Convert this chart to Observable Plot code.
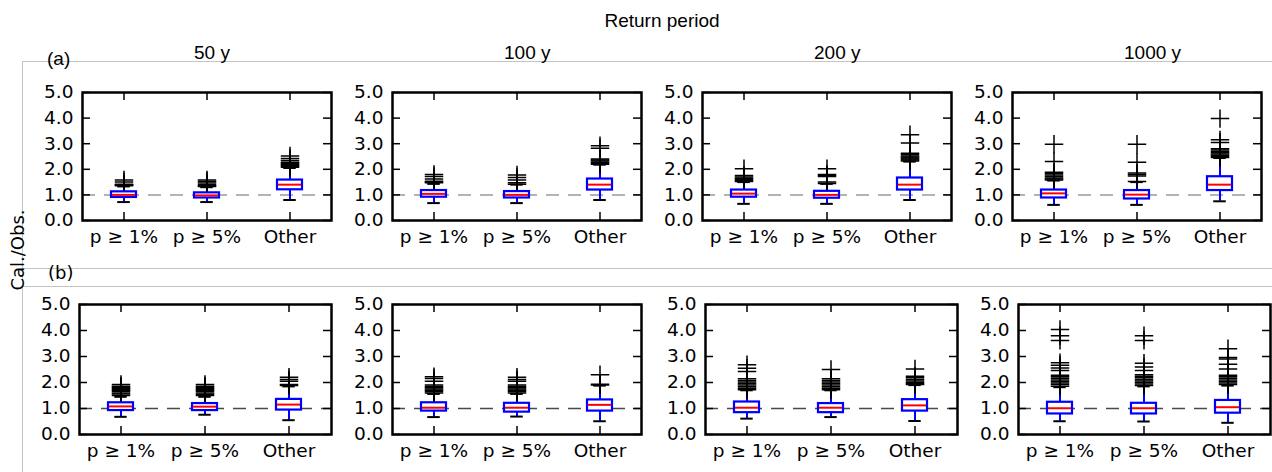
<!DOCTYPE html>
<html><head><meta charset="utf-8">
<script src="https://cdn.jsdelivr.net/npm/d3@7"></script>
<script src="https://cdn.jsdelivr.net/npm/@observablehq/plot@0.6"></script>
<style>
body{margin:0;background:#fff;}
#fig{position:relative;width:1272px;height:472px;overflow:hidden;background:#fff;}
.gl{position:absolute;background:#c4c4c4;}
.hdr{position:absolute;font-family:"Liberation Sans",Arial,sans-serif;font-size:18px;color:#000;white-space:nowrap;line-height:1;}
</style></head><body><div id="fig"></div>
<script>
const categories = ["p ≥ 1%", "p ≥ 5%", "Other"];
const periods = ["50 y", "100 y", "200 y", "1000 y"];
const yTicks = [0, 1, 2, 3, 4, 5];
const rowLabels = ["(a)", "(b)"];

// box stats per category: [lower whisker, Q1, median, Q3, upper whisker]
const boxA50   = [[0.72,0.90,1.00,1.12,1.33],[0.72,0.88,0.98,1.08,1.30],[0.80,1.20,1.40,1.58,2.05]];
const boxA100  = [[0.68,0.91,1.04,1.17,1.43],[0.68,0.88,1.00,1.13,1.40],[0.80,1.19,1.40,1.62,2.18]];
const boxA200  = [[0.65,0.91,1.05,1.19,1.50],[0.65,0.87,1.00,1.14,1.43],[0.80,1.19,1.40,1.66,2.30]];
const boxA1000 = [[0.61,0.88,1.06,1.19,1.56],[0.61,0.84,1.01,1.17,1.50],[0.75,1.17,1.40,1.71,2.44]];
const boxB50   = [[0.68,0.92,1.08,1.22,1.45],[0.76,0.92,1.07,1.19,1.45],[0.55,0.94,1.15,1.35,1.85]];
const boxB100  = [[0.67,0.90,1.03,1.22,1.56],[0.69,0.86,1.03,1.20,1.56],[0.51,0.90,1.14,1.33,1.88]];
const boxB200  = [[0.61,0.84,1.03,1.25,1.70],[0.67,0.84,1.03,1.19,1.70],[0.52,0.90,1.12,1.34,1.90]];
const boxB1000 = [[0.51,0.79,1.01,1.24,1.82],[0.50,0.79,1.01,1.20,1.85],[0.45,0.82,1.05,1.31,1.88]];

// outliers per category
const outA50   = [[1.36,1.38,1.40,1.42,1.50,1.58],[1.33,1.36,1.40,1.46,1.52,1.58],[2.08,2.12,2.16,2.20,2.24,2.28,2.34,2.42,2.52]];
const outA100  = [[1.47,1.50,1.53,1.62,1.72,1.80],[1.42,1.47,1.58,1.68,1.78],[2.20,2.24,2.28,2.32,2.36,2.40,2.82,2.92]];
const outA200  = [[1.52,1.56,1.60,1.65,1.70,1.76,2.02],[1.45,1.50,1.72,1.76,1.80,2.02],[2.32,2.36,2.40,2.44,2.48,2.52,2.58,2.63,3.03,3.35]];
const outA1000 = [[1.58,1.62,1.66,1.72,1.78,1.84,1.88,2.30,2.98],[1.52,1.74,1.80,1.86,2.28,2.98],[2.46,2.50,2.55,2.60,2.65,2.70,2.75,2.80,3.05,3.15,3.98]];
const outB50   = [[1.50,1.56,1.60,1.66,1.70,1.74,1.78,1.82,1.86,1.92],[1.50,1.55,1.60,1.66,1.70,1.74,1.78,1.82,1.86,1.92],[1.88,1.92,2.05,2.12,2.20]];
const outB100  = [[1.60,1.65,1.70,1.75,1.80,1.85,1.90,2.05,2.15,2.22],[1.60,1.65,1.70,1.75,1.80,1.85,1.90,2.05,2.12,2.20],[1.90,1.93,2.30]];
const outB200  = [[1.72,1.78,1.84,1.90,1.96,2.02,2.08,2.14,2.42,2.55,2.68],[1.72,1.78,1.84,1.90,1.96,2.02,2.08,2.14,2.50],[1.92,1.96,2.00,2.06,2.12,2.18,2.24,2.52]];
const outB1000 = [[1.86,1.92,1.98,2.04,2.10,2.16,2.22,2.28,2.46,2.56,2.66,2.76,3.62,3.80,4.04],[1.88,1.94,2.00,2.06,2.12,2.18,2.24,2.30,2.46,2.60,2.74,3.62,3.80],[1.92,1.98,2.04,2.10,2.16,2.22,2.28,2.52,2.70,2.90,2.96,3.30]];

const rowsBox = [[boxA50, boxA100, boxA200, boxA1000], [boxB50, boxB100, boxB200, boxB1000]];
const rowsOut = [[outA50, outA100, outA200, outA1000], [outB50, outB100, outB200, outB1000]];

// layout (frame positions, px)
const frameLefts = [[82, 392, 702, 1012], [79, 392, 705, 1018]];
const frameWidths = [[249, 249, 249, 249], [252, 249, 252, 252]];
const frameTops = [92, 304];
const frameHeights = [128, 130];
const mL = 62, mR = 6, mT = 8, mB = 36;

const fig = document.getElementById("fig");

function div(cls, css, text) {
  const d = document.createElement("div");
  d.className = cls;
  Object.assign(d.style, css);
  if (text != null) d.textContent = text;
  fig.appendChild(d);
  return d;
}

// gray subfigure frames
div("gl", {left: "22px", top: "61px", width: "1250px", height: "1px"});
div("gl", {left: "22px", top: "61px", width: "1px", height: "411px"});
div("gl", {left: "22px", top: "268px", width: "1250px", height: "1px"});
div("gl", {left: "22px", top: "286px", width: "1250px", height: "1px"});

function panel(stats, outl, row, W, H) {
  const boxes = categories.map((c, i) => ({cat: c, lo: stats[i][0], q1: stats[i][1], med: stats[i][2], q3: stats[i][3], hi: stats[i][4]}));
  const pts = categories.flatMap((c, i) => outl[i].map(v => ({cat: c, v})));
  const bw = W / 3 * 0.3;
  return Plot.plot({
    width: W + mL + mR, height: H + mT + mB,
    marginLeft: mL, marginRight: mR, marginTop: mT, marginBottom: mB,
    style: {fontFamily: "DejaVu Sans", fontSize: "18.5px", color: "#000", background: "transparent", overflow: "visible"},
    x: {type: "band", domain: categories, paddingInner: 0.7, paddingOuter: 0.35, label: null, tickSize: 0, tickPadding: 9},
    y: {domain: [0, 5], ticks: yTicks, tickFormat: d3.format(".1f"), label: null, tickSize: 0, tickPadding: 9},
    marks: [
      Plot.ruleY([1], {stroke: row === 0 ? "#9a9a9a" : "#4a4a4a", strokeWidth: 1.5, strokeDasharray: "13,9"}),
      Plot.ruleX(boxes, {x: "cat", y1: "lo", y2: "q1", stroke: "#0000ff", strokeWidth: 2}),
      Plot.ruleX(boxes, {x: "cat", y1: "q3", y2: "hi", stroke: "#0000ff", strokeWidth: 2}),
      Plot.tickY(boxes, {x: "cat", y: "lo", stroke: "#000", strokeWidth: 2, insetLeft: bw / 4, insetRight: bw / 4}),
      Plot.tickY(boxes, {x: "cat", y: "hi", stroke: "#000", strokeWidth: 2, insetLeft: bw / 4, insetRight: bw / 4}),
      Plot.dot(pts, {x: "cat", y: "v", symbol: "plus", r: 6, stroke: "#000", strokeWidth: 1.5, fill: "none"}),
      Plot.barY(boxes, {x: "cat", y1: "q1", y2: "q3", fill: "#fff", stroke: "#0000ff", strokeWidth: 2.2}),
      Plot.tickY(boxes, {x: "cat", y: "med", stroke: "#ff0000", strokeWidth: 2, insetLeft: 1, insetRight: 1}),
      // inward ticks
      Plot.ruleY(yTicks, {stroke: "#000", strokeWidth: 1.5, insetRight: W - 8}),
      Plot.ruleY(yTicks, {stroke: "#000", strokeWidth: 1.5, insetLeft: W - 8}),
      Plot.ruleX(categories, {x: d => d, stroke: "#000", strokeWidth: 1.5, insetTop: H - 8}),
      Plot.ruleX(categories, {x: d => d, stroke: "#000", strokeWidth: 1.5, insetBottom: H - 8}),
      Plot.frame({stroke: "#000", strokeWidth: 2.5})
    ]
  });
}

for (let r = 0; r < 2; r++) {
  for (let p = 0; p < 4; p++) {
    const W = frameWidths[r][p], H = frameHeights[r];
    const svg = panel(rowsBox[r][p], rowsOut[r][p], r, W, H);
    svg.style.position = "absolute";
    svg.style.left = (frameLefts[r][p] - mL) + "px";
    svg.style.top = (frameTops[r] - mT) + "px";
    fig.appendChild(svg);
  }
}

// headings
div("hdr", {left: "662px", top: "20px", transform: "translate(-50%,-50%)", fontSize: "19px"}, "Return period");
periods.forEach((t, i) => {
  div("hdr", {left: (frameLefts[0][i] + 112) + "px", top: "52px", transform: "translateY(-50%)", fontSize: "19px"}, t);
});
div("hdr", {left: "47px", top: "58px", transform: "translateY(-50%)", fontSize: "19px"}, rowLabels[0]);
div("hdr", {left: "48px", top: "273px", transform: "translateY(-50%)", fontSize: "18px", fontFamily: "DejaVu Sans"}, rowLabels[1]);
div("hdr", {left: "18px", top: "250px", transform: "translate(-50%,-50%) rotate(-90deg)", fontSize: "18px", fontFamily: "DejaVu Sans"}, "Cal./Obs.");
</script></body></html>
